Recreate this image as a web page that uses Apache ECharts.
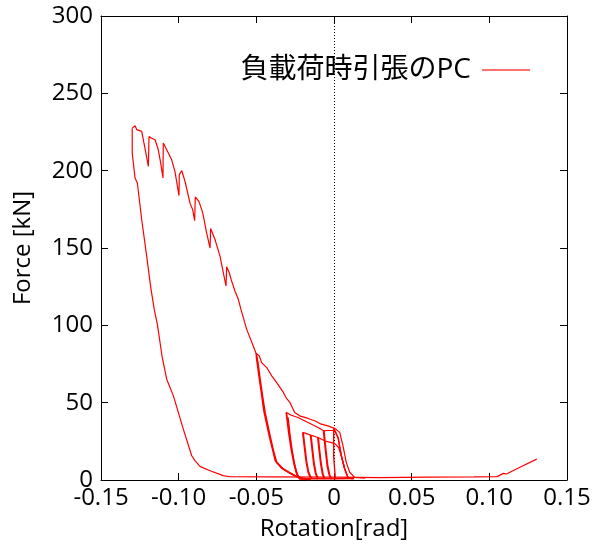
<!DOCTYPE html>
<html>
<head>
<meta charset="utf-8">
<script src="https://cdn.jsdelivr.net/npm/echarts@6/dist/echarts.min.js"></script>
<style>
  html, body { margin: 0; padding: 0; background: #fff; }
  #chart { width: 598px; height: 546px; }
</style>
</head>
<body>
<div id="chart"></div>
<script>
// 系列名称（图例）
const seriesName = '負載荷時引張のPC';

// 轴刻度
const xTicks = [-0.15, -0.10, -0.05, 0, 0.05, 0.10, 0.15];
const yTicks = [0, 50, 100, 150, 200, 250, 300];

// 最终循环：加载路径（从右向左，含锯齿）[rotation, force]
const loadPath = [
    [0.020, 1.2], [0.0133, 1.7], [0.0101, 5], [0.0079, 11.4], [0.0058, 22.1], [0.0037, 30.8],
    [0.0004, 33.4], [-0.0039, 35], [-0.0082, 36.1], [-0.0124, 38.3], [-0.0167, 39.8],
    [-0.0221, 41.5], [-0.0253, 43.7], [-0.0283, 50], [-0.0307, 53], [-0.0326, 56.6],
    [-0.0369, 63], [-0.0401, 67.3], [-0.0433, 72.7], [-0.0466, 75.9], [-0.0481, 80.2],
    [-0.0502, 81.9], [-0.0520, 86.6], [-0.0562, 97.4], [-0.0599, 110.3], [-0.0616, 116.8],
    [-0.0637, 122], [-0.0659, 128.6], [-0.0674, 134], [-0.0691, 137.9], [-0.0695, 125.4],
    [-0.0734, 144.7], [-0.0766, 155.5], [-0.0794, 162.6], [-0.0798, 150], [-0.0820, 159.8],
    [-0.0845, 172.7], [-0.0869, 180], [-0.0893, 183], [-0.0897, 167.7], [-0.0910, 174.8],
    [-0.0927, 179], [-0.0959, 193], [-0.0980, 200], [-0.0996, 197.4], [-0.0998, 183.9],
    [-0.1024, 199.5], [-0.1045, 207], [-0.1077, 213.5], [-0.1099, 217.9], [-0.1101, 195.3],
    [-0.1116, 205], [-0.1131, 213.5], [-0.1152, 220], [-0.1174, 221], [-0.1191, 222],
    [-0.1195, 202.8], [-0.1217, 214.6], [-0.1238, 225.4], [-0.1270, 226.5], [-0.1280, 229],
    [-0.1299, 227.5]
];

// 最终循环：卸载 + 水平段 + 右侧尾部
const unloadPath = [
    [-0.1299, 227.5], [-0.1299, 211.4], [-0.1281, 195.3], [-0.1266, 192], [-0.1238, 168.4],
    [-0.1206, 144.7], [-0.1178, 123.2], [-0.1157, 110.3], [-0.1136, 100], [-0.1107, 80],
    [-0.1077, 65.2], [-0.1034, 54.4], [-0.0970, 32.9], [-0.0916, 15.7], [-0.0895, 12.5],
    [-0.0863, 8.8], [-0.0798, 6], [-0.0713, 2.8], [-0.0670, 2.1], [-0.040, 2.0], [0.0, 1.8],
    [0.030, 1.6], [0.060, 1.9], [0.090, 2.0], [0.105, 2.2], [0.109, 4.3], [0.110, 3.2],
    [0.111, 3.9], [0.1197, 8.2], [0.1305, 13.5]
];

// -0.05 循环卸载（两条）
const unload50a = [
    [-0.0502, 81.9], [-0.0490, 76], [-0.0476, 65.2], [-0.0460, 54], [-0.0444, 43.7],
    [-0.0412, 28.6], [-0.0390, 19], [-0.0369, 11.4], [-0.0326, 7.1], [-0.0283, 4.5],
    [-0.0230, 1.7], [-0.018, 0.8], [0.0, 0.8], [0.012, 1.0]
];
const unload50b = [
    [-0.0500, 80], [-0.0484, 68], [-0.0468, 57], [-0.0452, 45], [-0.0420, 30],
    [-0.0378, 12.5], [-0.0335, 7.5], [-0.0290, 4.8], [-0.0238, 2]
];

// -0.03 循环
const load30 = [
    [0.009, 1.7], [0.0069, 7.1], [0.0047, 15.7], [0.0026, 27.5], [0.0004, 32], [-0.0040, 32],
    [-0.0066, 31.8], [-0.0103, 34], [-0.0167, 37.2], [-0.0232, 40.4], [-0.0275, 41.9],
    [-0.0307, 43.7]
];
const unload30a = [
    [-0.0307, 43.7], [-0.0300, 38], [-0.0290, 30], [-0.0275, 20], [-0.0258, 11],
    [-0.0240, 4], [-0.0221, 0.8], [-0.015, 0.5]
];
const unload30b = [
    [-0.0296, 40.4], [-0.0285, 30], [-0.0270, 19], [-0.0252, 9], [-0.0235, 3], [-0.0216, 0.6]
];

// 小循环：加载线 + 各卸载线
const smallLoad = [
    [0.012, 0.6], [0.009, 1.7], [0.0069, 7.1], [0.0047, 15.7], [0.0030, 21], [0.0005, 23.5],
    [-0.003, 24.5], [-0.006, 25.4], [-0.0103, 27.5], [-0.015, 29.0], [-0.020, 30.8]
];
const loopA = [[-0.0200, 30.8], [-0.0190, 22], [-0.0178, 12], [-0.0165, 5], [-0.0146, 0.6]];
const loopB = [[-0.0150, 29.0], [-0.0141, 21], [-0.0130, 11], [-0.0118, 4.5], [-0.0103, 0.6]];
const loopC = [[-0.0103, 27.5], [-0.0095, 20], [-0.0085, 11], [-0.0073, 4], [-0.0060, 0.6]];
const loopD = [[-0.0066, 31.8], [-0.0060, 25.4], [-0.0052, 18], [-0.0042, 9], [-0.0030, 3.5], [-0.0017, 0.6]];
const spike0 = [
    [0.0009, 0.5], [-0.0002, 15], [-0.0002, 33.4], [0.0026, 27.5], [0.0047, 15.7],
    [0.0069, 7.1], [0.009, 1.7], [0.013, 0.8]
];

const red = '#ff0000';
const fontLatin = "'Open Sans', 'Noto Sans CJK JP', sans-serif";

function lineSeries(data, width) {
    return {
        name: seriesName,
        type: 'line',
        data: data,
        showSymbol: false,
        symbol: 'none',
        color: red,
        lineStyle: { color: red, width: width || 1.2 },
        z: 3
    };
}

var myChart = echarts.init(document.getElementById('chart'));

const axisCommon = {
    axisLine: { show: true, onZero: false, lineStyle: { color: '#000', width: 1 } },
    axisTick: { show: true, inside: true, length: 7, lineStyle: { color: '#000' } },
    splitLine: { show: false }
};

var option = {
    animation: false,
    backgroundColor: '#fff',
    grid: { left: 101, right: 31, top: 16, bottom: 65, containLabel: false },
    legend: {
        data: [seriesName],
        right: 63,
        top: 51,
        align: 'right',
        icon: 'rect',
        itemWidth: 48,
        itemHeight: 1.5,
        itemStyle: { color: '#ff4040' },
        textStyle: { color: '#000', fontSize: 28, fontFamily: fontLatin, padding: [0, 6, 0, 0] }
    },
    xAxis: [
        Object.assign({
            type: 'value',
            min: xTicks[0],
            max: xTicks[xTicks.length - 1],
            interval: 0.05,
            position: 'bottom',
            name: 'Rotation[rad]',
            nameLocation: 'middle',
            nameGap: 37,
            nameTextStyle: { color: '#000', fontSize: 24, fontFamily: fontLatin },
            axisLabel: {
                color: '#000', fontSize: 24, fontFamily: fontLatin, margin: 6,
                formatter: function (v) { return Math.abs(v) < 1e-9 ? '0' : v.toFixed(2); }
            }
        }, axisCommon),
        Object.assign({
            type: 'value',
            min: xTicks[0],
            max: xTicks[xTicks.length - 1],
            interval: 0.05,
            position: 'top',
            axisLabel: { show: false }
        }, axisCommon)
    ],
    yAxis: [
        Object.assign({
            type: 'value',
            min: yTicks[0],
            max: yTicks[yTicks.length - 1],
            interval: 50,
            position: 'left',
            name: 'Force [kN]',
            nameLocation: 'middle',
            nameGap: 66,
            nameTextStyle: { color: '#000', fontSize: 24, fontFamily: fontLatin },
            axisLabel: { color: '#000', fontSize: 24, fontFamily: fontLatin, margin: 8 }
        }, axisCommon),
        Object.assign({
            type: 'value',
            min: yTicks[0],
            max: yTicks[yTicks.length - 1],
            interval: 50,
            position: 'right',
            axisLabel: { show: false }
        }, axisCommon)
    ],
    series: [
        Object.assign(lineSeries(loadPath), {
            markLine: {
                silent: true,
                symbol: ['none', 'none'],
                label: { show: false },
                lineStyle: { color: '#000', type: [1, 2], width: 1 },
                data: [{ xAxis: 0 }],
                z: 1
            }
        }),
        lineSeries(unloadPath),
        lineSeries(unload50a, 1.6),
        lineSeries(unload50b, 1.6),
        lineSeries(load30),
        lineSeries(unload30a, 1.8),
        lineSeries(unload30b, 1.6),
        lineSeries(smallLoad),
        lineSeries(loopA, 2),
        lineSeries(loopB, 2),
        lineSeries(loopC, 2),
        lineSeries(loopD, 2),
        lineSeries(spike0, 1.4)
    ]
};

myChart.setOption(option);
</script>
</body>
</html>
